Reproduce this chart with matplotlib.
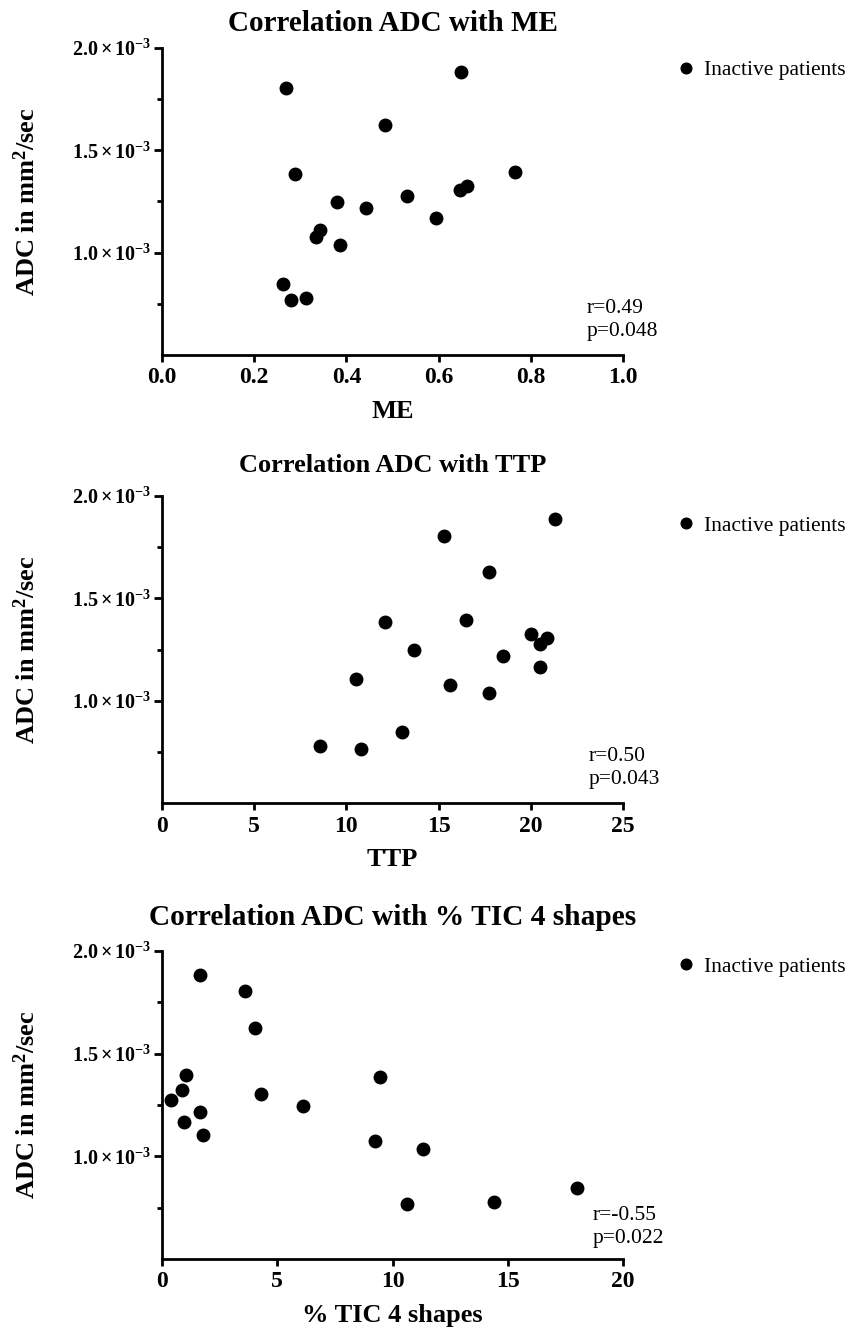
import matplotlib
matplotlib.use("Agg")
import matplotlib.pyplot as plt
from matplotlib.ticker import FixedLocator, FuncFormatter

plt.rcParams['font.family'] = ['Liberation Serif', 'DejaVu Serif']
plt.rcParams['mathtext.fontset'] = 'custom'
plt.rcParams['mathtext.rm'] = 'Liberation Serif'
plt.rcParams['mathtext.bf'] = 'Liberation Serif:bold'
plt.rcParams['mathtext.it'] = 'Liberation Serif:italic'

# ADC values in 10^-3 mm2/sec
me_x = [0.268, 0.484, 0.289, 0.379, 0.442, 0.343, 0.333, 0.386, 0.262, 0.280, 0.312,
        0.648, 0.765, 0.661, 0.647, 0.531, 0.594]
me_adc = [1.807, 1.625, 1.386, 1.248, 1.217, 1.110, 1.078, 1.039, 0.849, 0.771, 0.779,
          1.885, 1.396, 1.324, 1.305, 1.276, 1.167]

ttp_x = [8.59, 10.81, 10.50, 12.07, 13.0, 13.64, 21.30, 15.31, 17.72, 16.49, 20.0,
         20.9, 20.5, 18.5, 20.5, 15.62, 17.73]
ttp_adc = [0.779, 0.768, 1.107, 1.386, 0.849, 1.250, 1.888, 1.807, 1.628, 1.396, 1.328,
           1.307, 1.277, 1.217, 1.167, 1.078, 1.039]

tic_x = [0.375, 0.85, 1.05, 0.96, 1.65, 1.77, 1.65, 3.61, 4.02, 4.28, 6.13, 9.45, 9.26,
         11.33, 10.63, 14.40, 18.02]
tic_adc = [1.273, 1.324, 1.395, 1.165, 1.215, 1.105, 1.883, 1.805, 1.625, 1.304, 1.246,
           1.387, 1.074, 1.035, 0.767, 0.777, 0.845]

titles = ['Correlation ADC with ME', 'Correlation ADC with TTP', 'Correlation ADC with % TIC 4 shapes']
title_sizes = [21, 19, 21.2]
title_pads = [12, 17, 18.5]
xlabels = ['ME', 'TTP', '% TIC 4 shapes']
stats = ['r=0.49\np=0.048', 'r=0.50\np=0.043', 'r=-0.55\np=0.022']
xlims = [(0, 1.0), (0, 25), (0, 20)]
xticks = [[0.0, 0.2, 0.4, 0.6, 0.8, 1.0], [0, 5, 10, 15, 20, 25], [0, 5, 10, 15, 20]]
xfmt = ['{:.1f}', '{:.0f}', '{:.0f}']
yticks = [1.0e-3, 1.5e-3, 2.0e-3]
yminor = [0.75e-3, 1.25e-3, 1.75e-3]

fig = plt.figure(figsize=(8.59, 13.3), dpi=100)

# axes boxes in figure fraction
boxes = [[0.1886, 0.7331, 0.5367, 0.2308],
         [0.1886, 0.3959, 0.5367, 0.2312],
         [0.1886, 0.0534, 0.5367, 0.2316]]
legend_y = [0.928, 0.903, 0.949]
stat_pos = [(0.92, 0.114), (0.926, 0.115), (0.933, 0.104)]

data = [(me_x, me_adc), (ttp_x, ttp_adc), (tic_x, tic_adc)]


def yformat(v, pos):
    return r'$\mathbf{%.1f\times10^{-3}}$' % (v * 1e3)


for i in range(3):
    ax = fig.add_axes(boxes[i])
    x, adc = data[i]
    ax.plot(x, [a * 1e-3 for a in adc], 'o', color='black', markersize=9,
            label='Inactive patients')

    ax.set_xlim(xlims[i])
    ax.set_ylim(0.5e-3, 2.0e-3)
    ax.xaxis.set_major_locator(FixedLocator(xticks[i]))
    ax.xaxis.set_major_formatter(FuncFormatter(lambda v, p, f=xfmt[i]: f.format(v)))
    ax.yaxis.set_major_locator(FixedLocator(yticks))
    ax.yaxis.set_minor_locator(FixedLocator(yminor))
    ax.yaxis.set_major_formatter(FuncFormatter(yformat))

    for s in ['top', 'right']:
        ax.spines[s].set_visible(False)
    for s in ['left', 'bottom']:
        ax.spines[s].set_linewidth(2)
    ax.tick_params(axis='x', which='major', length=5, width=2, labelsize=17, pad=4)
    ax.tick_params(axis='y', which='major', length=6, width=2, labelsize=14.5, pad=2)
    ax.tick_params(axis='y', which='minor', length=3.5, width=2)
    for lab in ax.get_xticklabels() + ax.get_yticklabels():
        lab.set_fontweight('bold')

    ax.set_title(titles[i], fontsize=title_sizes[i], fontweight='bold', pad=title_pads[i])
    ax.set_xlabel(xlabels[i], fontsize=19, fontweight='bold', labelpad=8)
    ax.set_ylabel(r'ADC in mm$^{\mathbf{2}}$/sec', fontsize=19, fontweight='bold')
    ax.yaxis.set_label_coords(-0.265, 0.5)

    ax.text(stat_pos[i][0], stat_pos[i][1], stats[i], transform=ax.transAxes,
            fontsize=15.5, ha='left', va='center', linespacing=1.25)

    ax.legend(loc='center left', bbox_to_anchor=(1.117, legend_y[i]), frameon=False,
              fontsize=15.5, markerscale=0.85, handlelength=0.8, handletextpad=0.45,
              borderpad=0, borderaxespad=0)

fig.savefig('out.png', dpi=100)
